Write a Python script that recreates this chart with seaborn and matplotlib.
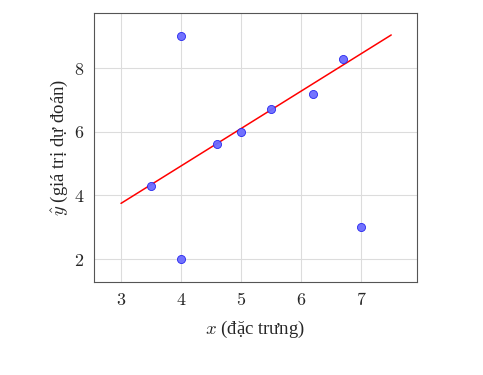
import pandas as pd
import seaborn as sns
import matplotlib.pyplot as plt

# data
x_vals = [3.5, 4.0, 4.0, 4.6, 5.0, 5.5, 6.2, 6.7, 7.0]
y_vals = [4.3, 9.0, 2.0, 5.6, 6.0, 6.7, 7.2, 8.3, 3.0]
line_x = [3.0, 7.5]
line_y = [3.75, 9.04]
x_ticks = [3, 4, 5, 6, 7]
y_ticks = [2, 4, 6, 8]

sns.set_style('whitegrid')
plt.rcParams['font.family'] = ['Liberation Serif', 'DejaVu Serif']
plt.rcParams['mathtext.fontset'] = 'cm'

df_pts = pd.DataFrame({'x': x_vals, 'y': y_vals})
df_line = pd.DataFrame({'x': line_x, 'y': line_y})

fig = plt.figure(figsize=(4.83, 3.75), dpi=100)
ax = fig.add_axes([0.1946, 0.248, 0.6688, 0.7173])

sns.lineplot(x='x', y='y', data=df_line, color='red', linewidth=1.1, ax=ax)
sns.scatterplot(x='x', y='y', data=df_pts, color='#6b6bff', edgecolor='#2020ee',
                linewidth=0.6, s=34, alpha=0.95, zorder=3, ax=ax)

ax.set_xlim(2.55, 7.93)
ax.set_ylim(1.28, 9.73)
ax.set_xticks(x_ticks)
ax.set_yticks(y_ticks)
ax.set_xticklabels([f'${t}$' for t in x_ticks], fontsize=13)
ax.set_yticklabels([f'${t}$' for t in y_ticks], fontsize=13)
ax.grid(True, color='#dcdcdc', linewidth=0.8)
for s in ax.spines.values():
    s.set_color('#555555')
    s.set_linewidth(0.8)
ax.tick_params(axis='both', direction='in', length=3, color='#555555', pad=7)

ax.set_xlabel(r'$x$ (đặc trưng)', fontsize=13.5, labelpad=7)
ax.set_ylabel(r'$\hat{y}$ (giá trị dự đoán)', fontsize=13.5, labelpad=3)

fig.savefig('out.png', dpi=100)
